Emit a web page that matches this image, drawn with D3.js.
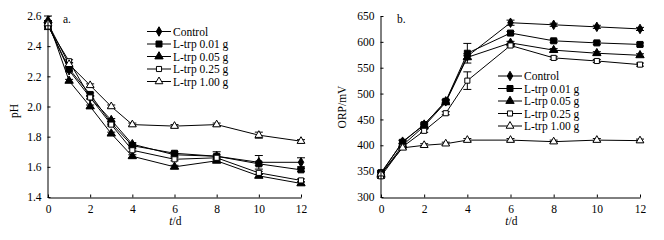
<!DOCTYPE html>
<html>
<head>
<meta charset="utf-8">
<script src="https://cdn.jsdelivr.net/npm/d3@7"></script>
<style>
  body { margin: 0; background: #fff; }
  svg { display: block; font-family: "Liberation Serif", "Times New Roman", serif; }
</style>
</head>
<body>
<svg id="chart" width="664" height="240"></svg>
<script>
// days sampled
const days = [0, 1, 2, 3, 4, 6, 8, 10, 12];
const seriesNames = ["Control", "L-trp 0.01 g", "L-trp 0.05 g", "L-trp 0.25 g", "L-trp 1.00 g"];
const symbols = ["diamond", "square", "triangle", "squareOpen", "triangleOpen"];

// panel a: pH
const phControl = [2.54, 2.24, 2.06, 1.91, 1.75, 1.68, 1.67, 1.63, 1.63];
const phTrp001  = [2.54, 2.25, 2.08, 1.89, 1.74, 1.69, 1.67, 1.62, 1.58];
const phTrp005  = [2.57, 2.17, 2.00, 1.82, 1.67, 1.60, 1.64, 1.54, 1.49];
const phTrp025  = [2.53, 2.30, 2.06, 1.88, 1.71, 1.65, 1.66, 1.56, 1.51];
const phTrp100  = [2.55, 2.28, 2.14, 2.00, 1.88, 1.87, 1.88, 1.81, 1.77];
const phErrControl = [0.02, 0.01, 0.01, 0.01, 0.01, 0.01, 0.03, 0.045, 0.03];
const phErrTrp001  = [0.02, 0.01, 0.01, 0.01, 0.01, 0.01, 0.01, 0.01, 0.01];
const phErrTrp005  = [0.03, 0.01, 0.01, 0.01, 0.01, 0.01, 0.01, 0.01, 0.01];
const phErrTrp025  = [0.02, 0.01, 0.01, 0.01, 0.01, 0.01, 0.01, 0.01, 0.01];
const phErrTrp100  = [0.02, 0.01, 0.01, 0.01, 0.01, 0.01, 0.01, 0.02, 0.01];
const phTicks = [1.4, 1.6, 1.8, 2.0, 2.2, 2.4, 2.6];

// panel b: ORP
const orpCtl    = [345, 407, 440, 485, 572, 637, 633, 629, 625];
const orpTrp001 = [347, 406, 440, 485, 578, 617, 602, 598, 595];
const orpTrp005 = [343, 400, 437, 483, 570, 598, 584, 578, 574];
const orpTrp025 = [340, 397, 428, 462, 525, 593, 569, 563, 556];
const orpTrp100 = [345, 395, 400, 403, 410, 410, 407, 410, 409];
const orpErrCtl    = [4, 3, 3, 3, 5, 5, 3, 3, 3];
const orpErrTrp001 = [4, 3, 3, 3, 19, 3, 3, 3, 3];
const orpErrTrp005 = [4, 3, 3, 3, 3, 3, 3, 3, 3];
const orpErrTrp025 = [4, 3, 3, 3, 17, 3, 3, 3, 3];
const orpErrTrp100 = [3, 3, 3, 3, 3, 3, 3, 3, 3];
const orpTicks = [300, 350, 400, 450, 500, 550, 600, 650];

const xTicks = [0, 2, 4, 6, 8, 10, 12];

const FS = 11.5; // text size
const svg = d3.select("#chart");

function symbolPath(kind) {
  if (kind.startsWith("diamond")) return d3.symbol(d3.symbolDiamond, 26)();
  if (kind.startsWith("square")) return d3.symbol(d3.symbolSquare, kind === "square" ? 36 : 26)();
  return d3.symbol(d3.symbolTriangle, kind === "triangle" ? 30 : 26)();
}

function drawPanel(cfg) {
  const x = d3.scaleLinear().domain([0, 12]).range(cfg.xRange);
  const y = d3.scaleLinear().domain(cfg.yDomain).range([197, 16]);
  const g = svg.append("g");

  // series lines and error bars
  cfg.series.forEach((vals, i) => {
    const errs = cfg.errors[i];
    const line = d3.line().x((d, j) => x(days[j])).y(d => y(d));
    g.append("path").datum(vals)
      .attr("d", line)
      .attr("fill", "none")
      .attr("stroke", "#000")
      .attr("stroke-width", 1);

    const eb = g.append("g").attr("stroke", "#000").attr("stroke-width", 1);
    vals.forEach((v, j) => {
      const cx = x(days[j]);
      const top = y(v + errs[j]), bot = y(v - errs[j]);
      eb.append("line").attr("x1", cx).attr("x2", cx).attr("y1", top).attr("y2", bot);
      eb.append("line").attr("x1", cx - 4).attr("x2", cx + 4).attr("y1", top).attr("y2", top);
      eb.append("line").attr("x1", cx - 4).attr("x2", cx + 4).attr("y1", bot).attr("y2", bot);
    });
  });
  // markers on top
  cfg.series.forEach((vals, i) => {
    const kind = symbols[i];
    const open = kind.endsWith("Open");
    g.append("g").selectAll("path").data(vals).join("path")
      .attr("d", symbolPath(kind))
      .attr("transform", (d, j) => `translate(${x(days[j])},${y(d)})`)
      .attr("fill", open ? "#fff" : "#000")
      .attr("stroke", "#000")
      .attr("stroke-width", 1);
  });

  // axes with inward ticks
  const yAxis = svg.append("g")
    .attr("transform", `translate(${cfg.xRange[0] - 0.5},0)`)
    .call(d3.axisLeft(y).tickValues(cfg.yTicks).tickFormat(cfg.yFormat)
      .tickSizeInner(-3).tickSizeOuter(0).tickPadding(6));
  const xAxis = svg.append("g")
    .attr("transform", `translate(0,${197.5})`)
    .call(d3.axisBottom(x).tickValues(xTicks).tickFormat(d3.format("d"))
      .tickSizeInner(-3).tickSizeOuter(0).tickPadding(7));
  [yAxis, xAxis].forEach(a => {
    a.selectAll("path, line").attr("stroke", "#000");
    a.selectAll("text").attr("font-family", "Liberation Serif").attr("font-size", FS).attr("fill", "#000");
  });

  // axis titles
  svg.append("text")
    .attr("transform", `translate(${cfg.yTitleX},${cfg.yTitleY}) rotate(-90)`)
    .attr("text-anchor", "middle")
    .attr("font-size", FS)
    .text(cfg.yTitle);
  const xc = (cfg.xRange[0] + cfg.xRange[1]) / 2;
  svg.append("text")
    .attr("x", xc - 2).attr("y", 225)
    .attr("text-anchor", "end")
    .attr("font-size", FS)
    .attr("font-style", "italic")
    .text("t");
  svg.append("text")
    .attr("x", xc - 2).attr("y", 225)
    .attr("font-size", FS)
    .text("/d");

  // panel letter
  svg.append("text")
    .attr("x", cfg.letterX).attr("y", 23)
    .attr("font-size", FS)
    .text(cfg.letter);

  // legend
  const leg = svg.append("g");
  seriesNames.forEach((name, i) => {
    const ly = cfg.legendY + i * 12.5;
    const row = leg.append("g");
    row.append("line")
      .attr("x1", cfg.legendX).attr("x2", cfg.legendX + 24)
      .attr("y1", ly).attr("y2", ly)
      .attr("stroke", "#000");
    const kind = symbols[i];
    row.append("path")
      .attr("d", symbolPath(kind))
      .attr("transform", `translate(${cfg.legendX + 12},${ly})`)
      .attr("fill", kind.endsWith("Open") ? "#fff" : "#000")
      .attr("stroke", "#000");
    row.append("text")
      .attr("x", cfg.legendX + 26).attr("y", ly + 4)
      .attr("font-size", FS)
      .text(name);
  });
}

drawPanel({
  xRange: [48, 301],
  yDomain: [1.4, 2.6],
  yTicks: phTicks,
  yFormat: d3.format(".1f"),
  series: [phControl, phTrp001, phTrp005, phTrp025, phTrp100],
  errors: [phErrControl, phErrTrp001, phErrTrp005, phErrTrp025, phErrTrp100],
  yTitle: "pH",
  yTitleX: 18, yTitleY: 111,
  letter: "a.", letterX: 63,
  legendX: 147, legendY: 31.5
});

drawPanel({
  xRange: [381, 640],
  yDomain: [300, 650],
  yTicks: orpTicks,
  yFormat: d3.format("d"),
  series: [orpCtl, orpTrp001, orpTrp005, orpTrp025, orpTrp100],
  errors: [orpErrCtl, orpErrTrp001, orpErrTrp005, orpErrTrp025, orpErrTrp100],
  yTitle: "ORP/mV",
  yTitleX: 346, yTitleY: 107,
  letter: "b.", letterX: 397,
  legendX: 498, legendY: 76
});
</script>
</body>
</html>
